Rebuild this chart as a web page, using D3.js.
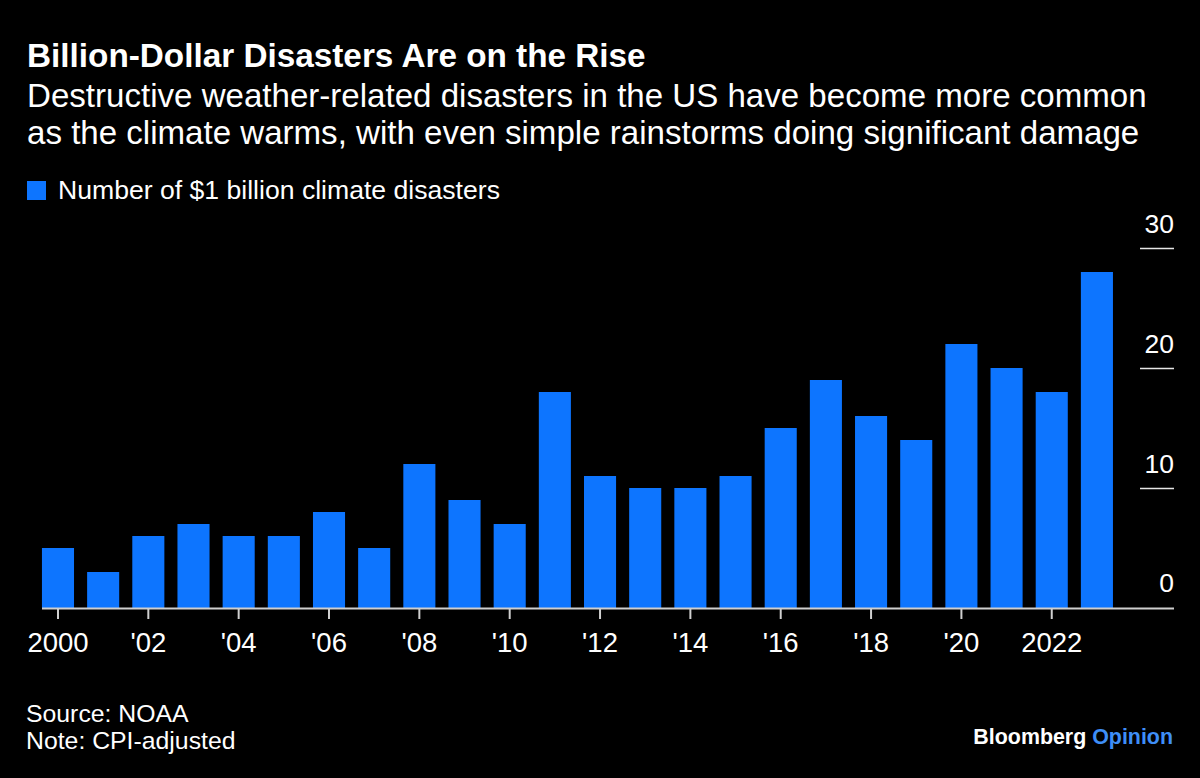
<!DOCTYPE html>
<html>
<head>
<meta charset="utf-8">
<script src="https://cdn.jsdelivr.net/npm/d3@7"></script>
<style>
  html, body { margin: 0; padding: 0; background: #000; }
  svg { display: block; }
  text { font-family: "Liberation Sans", Arial, Helvetica, sans-serif; fill: #fff; }
</style>
</head>
<body>
<svg id="chart" width="1200" height="778"></svg>
<script>
// ---- data ----
const years = [2000, 2001, 2002, 2003, 2004, 2005, 2006, 2007, 2008, 2009, 2010, 2011,
               2012, 2013, 2014, 2015, 2016, 2017, 2018, 2019, 2020, 2021, 2022, 2023];
const disasters = [5, 3, 6, 7, 6, 6, 8, 5, 12, 9, 7, 18,
                   11, 10, 10, 11, 15, 19, 16, 14, 22, 20, 18, 28];
const xTickYears = [2000, 2002, 2004, 2006, 2008, 2010, 2012, 2014, 2016, 2018, 2020, 2022];
const xTickLabels = ["2000", "'02", "'04", "'06", "'08", "'10", "'12", "'14", "'16", "'18", "'20", "2022"];
const yTicks = [0, 10, 20, 30];

const title = "Billion-Dollar Disasters Are on the Rise";
const subtitleLines = [
  "Destructive weather-related disasters in the US have become more common",
  "as the climate warms, with even simple rainstorms doing significant damage"
];
const legendLabel = "Number of $1 billion climate disasters";
const sourceLines = ["Source: NOAA", "Note: CPI-adjusted"];

// ---- layout ----
const BAR = "#0d75ff";
const svg = d3.select("#chart");
svg.append("rect").attr("width", 1200).attr("height", 778).attr("fill", "#000");

const x = d3.scaleBand().domain(years).range([35.4, 1119.5])
  .paddingInner(0.29).paddingOuter(0.145);
const y = d3.scaleLinear().domain([0, 30]).range([608, 248]);

// header
svg.append("text").attr("x", 27).attr("y", 67)
  .attr("font-size", 33.3).attr("font-weight", "bold").text(title);
svg.selectAll("text.sub").data(subtitleLines).enter().append("text")
  .attr("class", "sub").attr("x", 27).attr("y", (d, i) => 107 + i * 37)
  .attr("font-size", 33.1).text(d => d);

// legend
svg.append("rect").attr("x", 27).attr("y", 181).attr("width", 19).attr("height", 19).attr("fill", BAR);
svg.append("text").attr("x", 58).attr("y", 199).attr("font-size", 26.6).text(legendLabel);

// bars
svg.append("g").selectAll("rect").data(years).enter().append("rect")
  .attr("x", d => x(d))
  .attr("width", x.bandwidth())
  .attr("y", (d, i) => y(disasters[i]))
  .attr("height", (d, i) => y(0) - y(disasters[i]))
  .attr("fill", BAR);

// right axis
const yAxis = d3.axisLeft(y).tickValues(yTicks).tickSize(34).tickFormat(d3.format("d"));
const gy = svg.append("g").attr("transform", "translate(1174,0)").call(yAxis);
gy.select(".domain").remove();
gy.selectAll(".tick line").attr("stroke", "#e6e6e6").attr("stroke-width", 1.6)
  .attr("display", d => d === 0 ? "none" : null);
gy.selectAll(".tick text").attr("x", 0).attr("dy", null).attr("y", d => d === 0 ? -17 : -16)
  .attr("text-anchor", "end").attr("font-size", 26.5)
  .attr("font-family", "'Liberation Sans', Arial, sans-serif").attr("fill", "#fff");

// baseline
svg.append("line").attr("x1", 42).attr("x2", 1174).attr("y1", y(0) + 0.5).attr("y2", y(0) + 0.5)
  .attr("stroke", "#cfcfcf").attr("stroke-width", 2);

// bottom axis
const xAxis = d3.axisBottom(x).tickValues(xTickYears).tickSize(10)
  .tickFormat(d => xTickLabels[xTickYears.indexOf(d)]);
const gx = svg.append("g").attr("transform", "translate(0,609)").call(xAxis);
gx.select(".domain").remove();
gx.selectAll(".tick line").attr("stroke", "#cfcfcf").attr("stroke-width", 2);
gx.selectAll(".tick text").attr("y", 43).attr("dy", null).attr("font-size", 27.5)
  .attr("font-family", "'Liberation Sans', Arial, sans-serif").attr("fill", "#fff");

// footer
svg.selectAll("text.src").data(sourceLines).enter().append("text")
  .attr("class", "src").attr("x", 26).attr("y", (d, i) => 722 + i * 27)
  .attr("font-size", 24.8).text(d => d);

const brand = svg.append("text").attr("x", 1173).attr("y", 744).attr("text-anchor", "end")
  .attr("font-size", 21.4).attr("font-weight", "bold");
brand.append("tspan").text("Bloomberg ");
brand.append("tspan").attr("fill", "#3e8ef7").style("fill", "#3e8ef7").text("Opinion");
</script>
</body>
</html>
